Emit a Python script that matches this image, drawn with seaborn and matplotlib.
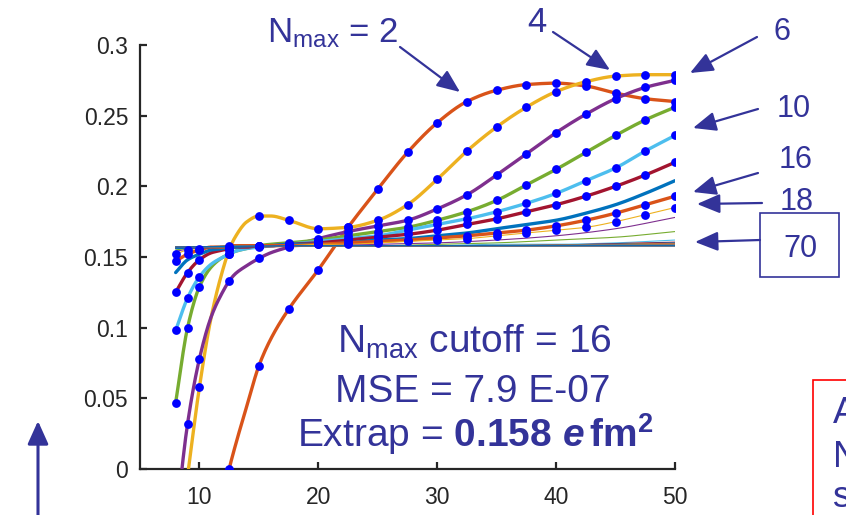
import numpy as np
import pandas as pd
import matplotlib
matplotlib.use("Agg")
import matplotlib.pyplot as plt
import seaborn as sns
from matplotlib.patches import FancyArrowPatch, Rectangle

nan = np.nan

# abscissa of the fitted curves and of the computed points
x_fit = [8, 9, 10, 11, 12, 12.5, 13, 14, 15, 16, 17.5, 20, 22.5, 25, 27.5, 30,
         32.5, 35, 37.5, 40, 42.5, 45, 47.5, 50]
x_data = [8, 9, 10, 12.5, 15, 17.5, 20, 22.5, 25, 27.5, 30, 32.5, 35, 37.5, 40,
          42.5, 45, 47.5, 50]

# fitted curves for the low Nmax truncations (thick lines)
nmax_2 = [nan, nan, nan, nan, -0.02, 0.0, 0.016, 0.045, 0.073, 0.092, 0.113, 0.141,
          0.171, 0.198, 0.224, 0.245, 0.260, 0.268, 0.272, 0.273, 0.271, 0.266, 0.262, 0.260]
nmax_4 = [nan, -0.005, 0.058, 0.108, 0.142, 0.155, 0.164, 0.175, 0.179, 0.179, 0.176, 0.170,
          0.171, 0.176, 0.187, 0.205, 0.225, 0.242, 0.256, 0.267, 0.274, 0.278, 0.279, 0.279]
nmax_6 = [-0.04, 0.032, 0.078, 0.108, 0.126, 0.133, 0.138, 0.144, 0.149, 0.153, 0.157, 0.163,
          0.168, 0.172, 0.176, 0.184, 0.194, 0.208, 0.223, 0.238, 0.251, 0.262, 0.270, 0.275]
nmax_8 = [0.047, 0.100, 0.129, 0.143, 0.150, 0.152, 0.154, 0.156, 0.158, 0.159, 0.160, 0.162,
          0.165, 0.168, 0.171, 0.176, 0.182, 0.190, 0.201, 0.212, 0.224, 0.236, 0.247, 0.256]
nmax_10 = [0.098, 0.121, 0.136, 0.145, 0.150, 0.152, 0.154, 0.156, 0.157, 0.158, 0.159, 0.161,
           0.163, 0.165, 0.169, 0.173, 0.177, 0.182, 0.188, 0.195, 0.204, 0.213, 0.225, 0.236]
nmax_12 = [0.125, 0.139, 0.148, 0.153, 0.155, 0.156, 0.157, 0.157, 0.158, 0.158, 0.159, 0.160,
           0.162, 0.164, 0.166, 0.169, 0.173, 0.177, 0.182, 0.187, 0.193, 0.200, 0.208, 0.217]
nmax_14 = [0.139, 0.148, 0.152, 0.155, 0.156, 0.157, 0.157, 0.158, 0.158, 0.158, 0.159, 0.159,
           0.160, 0.162, 0.163, 0.165, 0.167, 0.170, 0.173, 0.176, 0.181, 0.187, 0.195, 0.204]
nmax_16 = [0.147, 0.152, 0.155, 0.157, 0.157, 0.158, 0.158, 0.158, 0.158, 0.158, 0.158, 0.159,
           0.160, 0.161, 0.162, 0.1635, 0.165, 0.167, 0.169, 0.172, 0.176, 0.181, 0.187, 0.193]
# first truncation above the cutoff (thin line, still with points)
nmax_18 = [0.152, 0.155, 0.156, 0.157, 0.157, 0.157, 0.158, 0.158, 0.158, 0.158, 0.158, 0.159,
           0.159, 0.160, 0.161, 0.162, 0.163, 0.165, 0.167, 0.169, 0.171, 0.175, 0.180, 0.185]

# higher truncations, thin lines only
x_thin = [8, 10, 15, 20, 25, 30, 35, 40, 45, 50]
nmax_20 = [0.154, 0.157, 0.158, 0.158, 0.159, 0.160, 0.162, 0.165, 0.170, 0.178]
nmax_22 = [0.155, 0.157, 0.158, 0.158, 0.158, 0.159, 0.160, 0.162, 0.164, 0.168]
nmax_24 = [0.156, 0.157, 0.158, 0.158, 0.158, 0.158, 0.159, 0.159, 0.160, 0.162]

# converged truncations Nmax = 26 ... 70
x_flat = [8, 20, 35, 50]
nmax_flat = list(range(26, 72, 2))
flat_rows = [
    [0.156, 0.158, 0.158, 0.1605],
    [0.156, 0.158, 0.158, 0.1600],
    [0.157, 0.158, 0.158, 0.1596],
    [0.157, 0.158, 0.158, 0.1593],
    [0.157, 0.158, 0.158, 0.1591],
    [0.157, 0.158, 0.158, 0.1589],
    [0.157, 0.158, 0.158, 0.1588],
    [0.157, 0.158, 0.158, 0.1587],
    [0.157, 0.158, 0.158, 0.1586],
    [0.157, 0.158, 0.158, 0.1585],
    [0.157, 0.158, 0.158, 0.1584],
    [0.157, 0.158, 0.158, 0.1583],
    [0.157, 0.158, 0.158, 0.1582],
    [0.157, 0.158, 0.158, 0.1582],
    [0.157, 0.158, 0.158, 0.1581],
    [0.157, 0.158, 0.158, 0.1581],
    [0.157, 0.158, 0.158, 0.1580],
    [0.157, 0.158, 0.158, 0.1580],
    [0.157, 0.158, 0.158, 0.1580],
    [0.157, 0.158, 0.158, 0.1580],
    [0.157, 0.158, 0.158, 0.1580],
    [0.157, 0.158, 0.158, 0.1580],
    [0.157, 0.158, 0.158, 0.1580],
]

y_ticks = [0, 0.05, 0.1, 0.15, 0.2, 0.25, 0.3]
y_tick_labels = ["0", "0.05", "0.1", "0.15", "0.2", "0.25", "0.3"]
x_ticks = [10, 20, 30, 40, 50]
x_tick_labels = ["10", "20", "30", "40", "50"]

nmax_cutoff = 16
mse_text = "7.9 E-07"
extrap_value = "0.158"

# MATLAB default colour order
ORDER = ["#0072BD", "#D95319", "#EDB120", "#7E2F8E", "#77AC30", "#4DBEEE", "#A2142F"]
INK = "#333399"
DOT = "#0000FF"


def color_for(n):
    return ORDER[(n // 2) % len(ORDER)]


def pchip(xs, ys, xq):
    """Shape-preserving cubic through the given samples."""
    xs = np.asarray(xs, float)
    ys = np.asarray(ys, float)
    h = np.diff(xs)
    d = np.diff(ys) / h
    m = np.zeros_like(ys)
    m[0], m[-1] = d[0], d[-1]
    for k in range(1, len(xs) - 1):
        if d[k - 1] * d[k] > 0:
            w1 = 2 * h[k] + h[k - 1]
            w2 = h[k] + 2 * h[k - 1]
            m[k] = (w1 + w2) / (w1 / d[k - 1] + w2 / d[k])
    i = np.clip(np.searchsorted(xs, xq, side="right") - 1, 0, len(xs) - 2)
    t = (xq - xs[i]) / h[i]
    h00 = 2 * t**3 - 3 * t**2 + 1
    h10 = t**3 - 2 * t**2 + t
    h01 = -2 * t**3 + 3 * t**2
    h11 = t**3 - t**2
    return h00 * ys[i] + h10 * h[i] * m[i] + h01 * ys[i + 1] + h11 * h[i] * m[i + 1]


def smooth_frame(xs, ys, n):
    xs = np.asarray(xs, float)
    ys = np.asarray(ys, float)
    ok = ~np.isnan(ys)
    xs, ys = xs[ok], ys[ok]
    xq = np.linspace(xs[0], xs[-1], 400)
    return pd.DataFrame({"x": xq, "y": pchip(xs, ys, xq), "nmax": n})


curves = [(2, x_fit, nmax_2), (4, x_fit, nmax_4), (6, x_fit, nmax_6), (8, x_fit, nmax_8),
          (10, x_fit, nmax_10), (12, x_fit, nmax_12), (14, x_fit, nmax_14),
          (16, x_fit, nmax_16), (18, x_fit, nmax_18), (20, x_thin, nmax_20),
          (22, x_thin, nmax_22), (24, x_thin, nmax_24)]
curves += [(n, x_flat, row) for n, row in zip(nmax_flat, flat_rows)]

with_points = {2: nmax_2, 4: nmax_4, 6: nmax_6, 8: nmax_8, 10: nmax_10,
               12: nmax_12, 16: nmax_16, 18: nmax_18}
pts = []
for n, vals in with_points.items():
    for xv, yv in zip(x_fit, vals):
        if xv in x_data and not np.isnan(yv):
            pts.append({"x": xv, "y": yv, "nmax": n})
points = pd.DataFrame(pts)

sns.set_theme(style="ticks")
plt.rcParams.update({
    "font.family": ["Liberation Sans", "DejaVu Sans"],
    "mathtext.fontset": "custom",
    "mathtext.rm": "Liberation Sans",
    "mathtext.it": "Liberation Sans:italic:bold",
    "mathtext.bf": "Liberation Sans:bold",
})

W, H = 846, 515
fig = plt.figure(figsize=(W / 100, H / 100), dpi=100)
fig.patch.set_facecolor("white")
ax = fig.add_axes([140 / W, 1 - 469 / H, 535 / W, 424 / H])
ax.set_facecolor("white")

for n, xs, ys in curves:
    df = smooth_frame(xs, ys, n)
    sns.lineplot(data=df, x="x", y="y", ax=ax, color=color_for(n),
                 lw=2.4 if n <= nmax_cutoff else 0.8, estimator=None, sort=False,
                 legend=False, zorder=3)

sns.scatterplot(data=points, x="x", y="y", ax=ax, color=DOT, s=40, linewidth=0,
                legend=False, zorder=4)

ax.set_xlim(5, 50)
ax.set_ylim(0, 0.3)
ax.set_xticks(x_ticks, x_tick_labels)
ax.set_yticks(y_ticks, y_tick_labels)
ax.set_xlabel("")
ax.set_ylabel("")
for side in ("top", "right"):
    ax.spines[side].set_visible(False)
for side in ("left", "bottom"):
    ax.spines[side].set_linewidth(1.6)
    ax.spines[side].set_color("#262626")
ax.tick_params(axis="both", direction="in", length=5, width=1.6, color="#262626",
               labelsize=16.5, labelcolor="#262626")
ax.tick_params(axis="x", pad=12)
ax.tick_params(axis="y", pad=8.5)


def fpos(x, y):
    return (x / W, 1 - y / H)


def label(x, y, s, size, **kw):
    fig.text(*fpos(x, y), s, fontsize=size, color=INK, ha="center", va="baseline", **kw)


def arrow(p0, p1, lw=1.6, hw=0.42):
    fig.add_artist(FancyArrowPatch(fpos(*p0), fpos(*p1), transform=fig.transFigure,
                                   arrowstyle=f"-|>,head_length=1.0,head_width={hw}",
                                   mutation_scale=14, lw=lw, color=INK,
                                   shrinkA=0, shrinkB=0))


# statistics of the extrapolation
label(474, 353, r"N$_{\mathrm{max}}$ cutoff = " + str(nmax_cutoff), 28)
label(473, 402, "MSE = " + mse_text, 28)
label(475, 447, r"Extrap = $\mathbf{" + extrap_value + r"}\ \mathit{e}\,\mathbf{fm}^{\mathbf{2}}$", 28)

# truncation labels with arrows
label(333, 42, r"N$_{\mathrm{max}}$ = 2", 25)
arrow((400, 47), (460, 92))
label(537, 32, "4", 25)
arrow((553, 32), (610, 70))
label(782, 40, "6", 22)
arrow((757, 37), (690, 73))
label(794, 117, "10", 22)
arrow((758, 109), (693, 128))
label(796, 168, "16", 22)
arrow((758, 173), (693, 192))
label(797, 210, "18", 22)
arrow((762, 203), (697, 204))
label(800, 257, "70", 22)
fig.add_artist(Rectangle(fpos(760, 277), 79 / W, 64 / H, transform=fig.transFigure,
                         fill=False, edgecolor=INK, lw=1.2))
arrow((760, 240), (695, 242))

# vertical arrow at the lower left
arrow((38, 520), (38, 421), lw=2.2, hw=0.45)

# side note box running off the right edge
fig.add_artist(Rectangle(fpos(813, 540), 60 / W, 160 / H, transform=fig.transFigure,
                         fill=False, edgecolor="#FF0000", lw=1.2))
fig.text(*fpos(833, 423), "A", fontsize=26, color=INK, ha="left", va="baseline")
fig.text(*fpos(833, 467), "N", fontsize=26, color=INK, ha="left", va="baseline")
fig.text(*fpos(833, 507), "s", fontsize=26, color=INK, ha="left", va="baseline")

fig.savefig("out.png", dpi=100)
